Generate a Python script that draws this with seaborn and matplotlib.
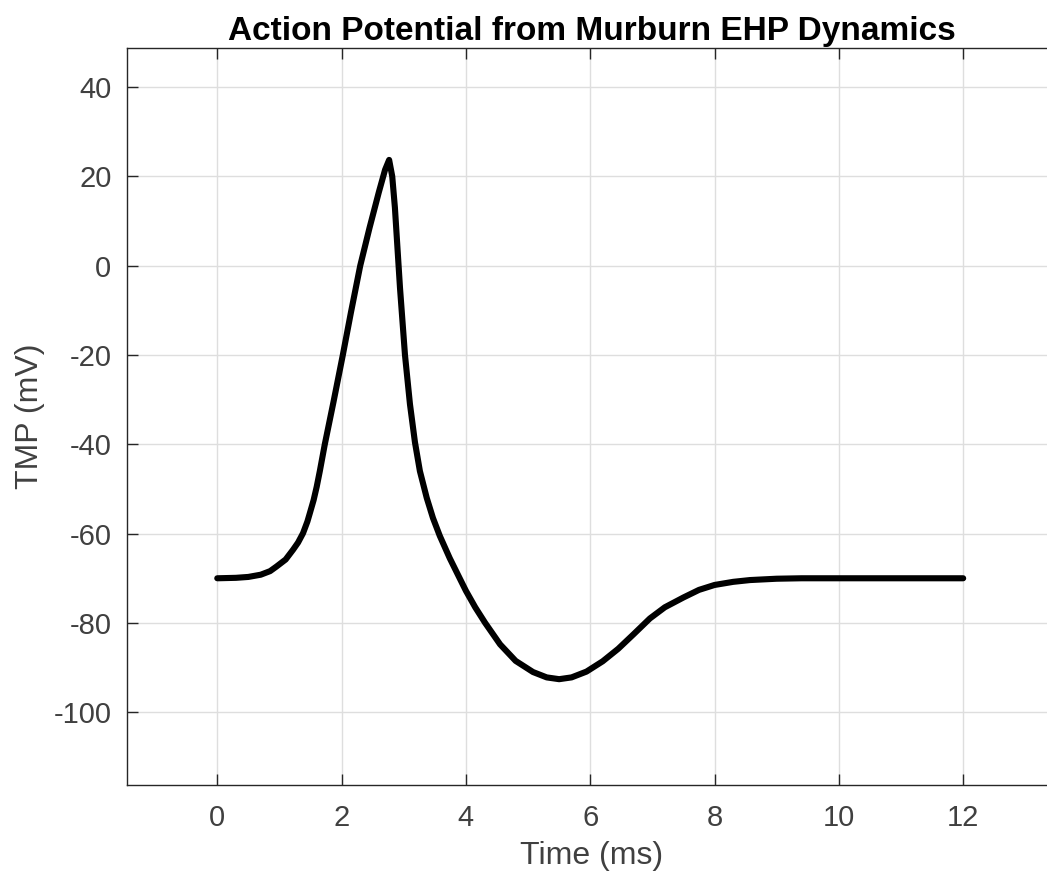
"""
Action potential trace (TMP vs time) redrawn with seaborn.
"""

import pandas as pd
import matplotlib
matplotlib.use("Agg")
import matplotlib.pyplot as plt
import seaborn as sns

# values
time_ms = [
    0.0, 0.3, 0.5, 0.7, 0.85, 0.95, 1.1, 1.22, 1.3, 1.38, 1.45, 1.49, 1.55,
    1.6, 1.65, 1.73, 1.87, 2.02, 2.15, 2.3, 2.45, 2.6, 2.7, 2.765, 2.815,
    2.858, 2.94, 3.02, 3.1, 3.18, 3.26, 3.37, 3.47, 3.58, 3.74, 3.9, 4.0,
    4.15, 4.31, 4.55, 4.8, 5.08, 5.3, 5.5, 5.7, 5.94, 6.2, 6.45, 6.7, 6.96,
    7.2, 7.5, 7.75, 8.0, 8.3, 8.57, 9.0, 9.4, 10.0, 11.0, 12.0,
]
tmp_mv = [
    -70.0, -69.9, -69.7, -69.2, -68.4, -67.4, -65.8, -63.6, -62.0, -59.9,
    -57.3, -55.4, -52.5, -49.5, -46.0, -40.0, -30.5, -20.0, -10.5, 0.0,
    8.5, 16.5, 21.5, 23.7, 20.0, 13.0, -5.0, -20.0, -31.0, -39.5, -46.0,
    -52.0, -56.5, -60.5, -65.5, -70.0, -72.8, -76.5, -80.0, -84.8, -88.5,
    -91.0, -92.2, -92.6, -92.2, -90.9, -88.6, -85.8, -82.5, -79.0, -76.5,
    -74.3, -72.6, -71.5, -70.8, -70.4, -70.1, -70.0, -70.0, -70.0, -70.0,
]
x_ticks = [0, 2, 4, 6, 8, 10, 12]
y_ticks = [-100, -80, -60, -40, -20, 0, 20, 40]

df = pd.DataFrame({"Time (ms)": time_ms, "TMP (mV)": tmp_mv})

sns.set_theme(style="whitegrid")
plt.rcParams["font.family"] = ["Liberation Sans", "DejaVu Sans"]
plt.rcParams["axes.unicode_minus"] = False

axis_color = "#262626"
text_color = "#404040"

fig = plt.figure(figsize=(10.47, 8.73), dpi=100)
ax = fig.add_axes([0.121, 0.1008, 0.888, 0.8439])

sns.lineplot(data=df, x="Time (ms)", y="TMP (mV)", color="black",
             linewidth=4.4, ax=ax)

ax.set_xlim(-1.457, 13.5)
ax.set_ylim(-116.3, 48.7)
ax.set_xticks(x_ticks)
ax.set_yticks(y_ticks)

ax.set_facecolor("white")
ax.grid(True, color="#dedede", linewidth=1.0)
for side in ["left", "bottom", "top", "right"]:
    ax.spines[side].set_visible(True)
    ax.spines[side].set_color(axis_color)
    ax.spines[side].set_linewidth(1.0)

ax.tick_params(axis="both", direction="in", length=8, width=1.0,
               colors=axis_color, labelsize=21, labelcolor=text_color,
               top=True, bottom=True, left=True, right=False)
ax.tick_params(axis="x", pad=14)
ax.tick_params(axis="y", pad=11)

ax.set_xlabel("Time (ms)", fontsize=23, color=text_color, labelpad=6)
ax.set_ylabel("TMP (mV)", fontsize=23, color=text_color, labelpad=6)
ax.set_title("Action Potential from Murburn EHP Dynamics",
             fontsize=24, fontweight="bold", color="black", pad=6)

fig.savefig("out.png", dpi=100)
